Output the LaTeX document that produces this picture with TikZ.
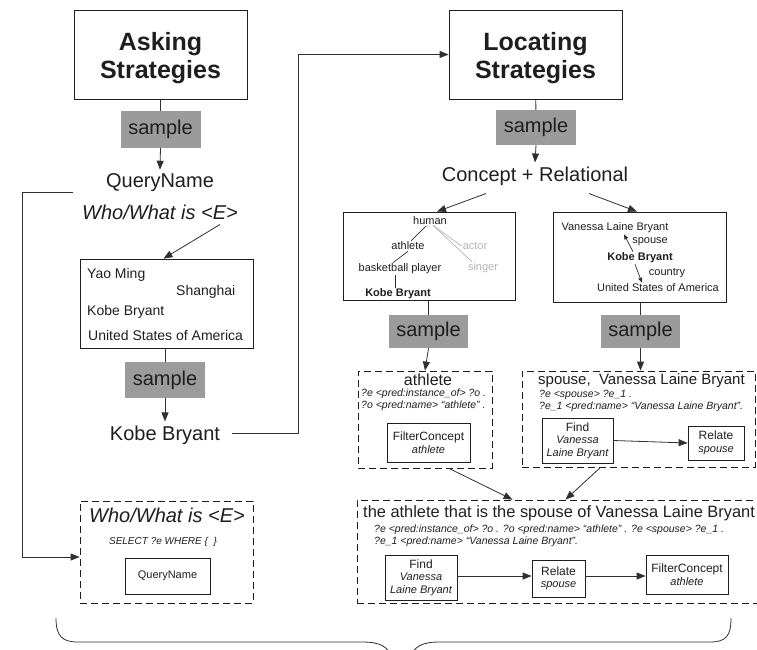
\documentclass[tikz,border=0pt]{standalone}
\usepackage{fontspec}
\setmainfont{Liberation Sans}
\usetikzlibrary{arrows.meta,calc}

\definecolor{samplegray}{HTML}{9B9B9B}
\definecolor{ink}{HTML}{1E1E1E}
\definecolor{wire}{HTML}{303030}
\definecolor{faint}{HTML}{B4B4B4}

\begin{document}
\begin{tikzpicture}[x=1pt,y=-1pt,
  every node/.style={text=ink},
  plainbox/.style={draw=ink, line width=0.8pt, inner sep=2pt},
  dashbox/.style={draw=ink, line width=0.8pt, dash pattern=on 7pt off 4pt},
  samplebox/.style={fill=samplegray, inner sep=0pt, font=\fontsize{20}{24}\selectfont},
  ftitle/.style={font=\fontsize{25}{28}\selectfont\bfseries, align=center, inner sep=0pt},
  fbig/.style={font=\fontsize{20}{24}\selectfont, inner sep=4pt},
  fbigit/.style={font=\fontsize{20}{24}\selectfont\itshape, inner sep=4pt},
  fhead/.style={font=\fontsize{16}{19}\selectfont, inner sep=1pt},
  flist/.style={font=\fontsize{14}{17}\selectfont, inner sep=1pt},
  ftree/.style={font=\fontsize{11}{13}\selectfont, inner sep=1pt},
  fcode/.style={font=\fontsize{10.5}{12}\selectfont\itshape, inner sep=0pt, align=left},
  fop/.style={font=\fontsize{12}{12.5}\selectfont, align=center, inner sep=0pt},
  conn/.style={draw=wire, line width=0.8pt},
  arr/.style={conn, -{Triangle[length=9pt,width=7pt]}},
  smallarr/.style={conn, line width=0.7pt, -{Triangle[length=5pt,width=4pt]}},
  fainted/.style={draw=faint, line width=0.7pt},
]
\useasboundingbox (0,0) rectangle (757,650);

% ---------------- asking strategies ----------------
\node[plainbox, minimum width=173pt, minimum height=89pt] (ask) at (160.5,54.5) {};
\node[ftitle] (askT) at (160.5,58) {Asking\\Strategies};
\node[samplebox, minimum width=80pt, minimum height=36pt] (s1) at (160.5,129.5) {sample};
\node[fbig] (qn) at (160,183) {QueryName};
\node[fbigit] (who) at (160,212) {Who/What is <E>};
\draw[conn] (ask) -- (s1);
\draw[arr] (s1.south) -- (qn.north);

\node[plainbox, minimum width=173pt, minimum height=89pt] (lst) at (166.5,303.5) {};
\node[flist, anchor=west] (l1) at (86,275) {Yao Ming};
\node[flist, anchor=west] (l2) at (175,292) {Shanghai};
\node[flist, anchor=west] (l3) at (86,312) {Kobe Bryant};
\node[flist, anchor=west] (l4) at (87,335) {United States of America};
\draw[arr] ([xshift=60pt,yshift=-1pt]who.south) -- ([xshift=-3pt]lst.north);

\node[samplebox, minimum width=80pt, minimum height=36pt] (s2) at (165,380) {sample};
\node[fbig] (kb) at (165,435) {Kobe Bryant};
\draw[conn] ([xshift=-1.5pt]lst.south) -- (s2.north);
\draw[arr] (s2.south) -- (kb.north);

% the sampled name feeds the locating strategies
\node[plainbox, minimum width=173pt, minimum height=89pt] (loc) at (535.5,54.5) {};
\node[ftitle] (locT) at (535.5,58) {Locating\\Strategies};
\draw[arr] ([xshift=8pt,yshift=2pt]kb.east) -- ++(66,0) |- (loc.west);

% the query template goes to its program
\node[dashbox, minimum width=173pt, minimum height=102pt] (dD) at (166.5,552) {};
\node[fbigit, inner sep=1pt] (dDt) at (167,515) {Who/What is <E>};
\node[fcode, font=\fontsize{10}{12}\selectfont\itshape] (dDc) at (163,542) {SELECT ?e WHERE \{ \ \}};
\node[plainbox, minimum width=85pt, minimum height=36pt, font=\fontsize{11}{13}\selectfont] (dDq) at (167.5,576) {QueryName};
\coordinate (qlink) at (73,192);
\draw[arr] (qlink) -- ++(-51,0) |- ([yshift=-5pt]dD.west);

% ---------------- locating strategies ----------------
\node[samplebox, minimum width=80pt, minimum height=35pt] (s3) at (536,127.5) {sample};
\node[fbig] (cr) at (535,176) {Concept + Relational};
\draw[conn] (loc) -- (s3);
\draw[arr] (s3.south) -- (cr.north);

\node[plainbox, minimum width=172pt, minimum height=88pt] (cA) at (429,256) {};
\node[plainbox, minimum width=173pt, minimum height=90pt] (cB) at (640,257) {};
\draw[arr] ([xshift=-49pt,yshift=-4pt]cr.south) -- ([xshift=8pt]cA.north);
\draw[arr] ([xshift=54pt,yshift=-4pt]cr.south) -- ([xshift=-3pt]cB.north);

% concept hierarchy
\node[ftree] (human) at (430,221) {human};
\node[ftree] (athl) at (408,246) {athlete};
\node[ftree, text=faint] (actor) at (475,246) {actor};
\node[ftree] (bball) at (400,269) {basketball player};
\node[ftree, text=faint] (singer) at (483,268) {singer};
\node[ftree, font=\fontsize{11}{13}\selectfont\bfseries] (kobeA) at (398,294) {Kobe Bryant};
\draw[conn, line width=0.7pt] ([xshift=-4pt]human.south) -- ([xshift=3pt]athl.north);
\draw[conn, line width=0.7pt] (athl.south) -- ([xshift=-7pt]bball.north);
\draw[conn, line width=0.7pt] ([xshift=-5pt]bball.south) -- ([xshift=-3pt]kobeA.north);
\draw[fainted] ([xshift=3pt,yshift=1pt]human.south) -- (actor.west);
\draw[fainted] ([xshift=3pt,yshift=1pt]human.south) -- ([xshift=5pt]singer.north west);

% relations around the entity
\node[ftree] (van) at (615,228) {Vanessa Laine Bryant};
\node[ftree] (spl) at (650,242) {spouse};
\node[ftree, font=\fontsize{11}{13}\selectfont\bfseries] (kobeB) at (640,258) {Kobe Bryant};
\node[ftree] (ctl) at (667,273) {country};
\node[ftree] (usaB) at (658,288) {United States of America};
\draw[smallarr] ([xshift=-7pt]kobeB.north) -- ([xshift=9pt]van.south);
\draw[smallarr] ([xshift=-5pt]kobeB.south) -- ([xshift=-16pt]usaB.north);

\node[samplebox, minimum width=79pt, minimum height=33pt] (s4) at (428.5,331.5) {sample};
\node[samplebox, minimum width=79pt, minimum height=33pt] (s5) at (640.5,331.5) {sample};
\draw[conn] ([xshift=-0.5pt]cA.south) -- (s4.north);
\draw[conn] ([xshift=0.5pt]cB.south) -- (s5.north);

% concept program
\node[dashbox, minimum width=134pt, minimum height=97pt] (dA) at (425,419.5) {};
\node[fhead] (dAt) at (428,380) {athlete};
\node[fcode, anchor=north west] (dAc) at (361,389) {?e <pred:instance\_of> ?o .\\?o <pred:name> ``athlete'' .};
\node[plainbox, fop, minimum width=83pt, minimum height=39pt] (fcA) at (428.5,442.5) {FilterConcept\\{\itshape\fontsize{11}{12.5}\selectfont athlete}};
\draw[arr] (s4.south) -- (dA.north);

% relation program
\node[dashbox, minimum width=233pt, minimum height=96pt] (dB) at (638.5,419) {};
\node[fhead, anchor=west, font=\fontsize{15}{18}\selectfont] (dBt) at (537,381) {spouse,~ Vanessa Laine Bryant};
\node[fcode, anchor=north west] (dBc) at (539,390) {?e <spouse> ?e\_1 .\\?e\_1 <pred:name> ``Vanessa Laine Bryant''.};
\node[plainbox, fop, minimum width=71pt, minimum height=45pt] (fdB) at (577.5,440.5) {Find\\{\itshape\fontsize{11}{12.5}\selectfont Vanessa}\\{\itshape\fontsize{11}{12.5}\selectfont Laine Bryant}};
\node[plainbox, fop, minimum width=56pt, minimum height=34pt] (rB) at (716,443) {Relate\\{\itshape\fontsize{11}{12.5}\selectfont spouse}};
\draw[arr] (s5.south) -- ([xshift=2pt]dB.north);
\draw[arr] (fdB.east) -- (rB.west);

% combined program
\node[dashbox, minimum width=405pt, minimum height=103pt] (dC) at (559.5,551.5) {};
\node[fhead, anchor=west, font=\fontsize{16.4}{19}\selectfont] (dCt) at (362,513) {the athlete that is the spouse of Vanessa Laine Bryant};
\node[fcode, anchor=north west] (dCc) at (374,525) {?e <pred:instance\_of> ?o . ?o <pred:name> ``athlete'' . ?e <spouse> ?e\_1 .\\?e\_1 <pred:name> ``Vanessa Laine Bryant''.};
\node[plainbox, fop, minimum width=72pt, minimum height=45pt] (fdC) at (421,577.5) {Find\\{\itshape\fontsize{11}{12.5}\selectfont Vanessa}\\{\itshape\fontsize{11}{12.5}\selectfont Laine Bryant}};
\node[plainbox, fop, minimum width=53pt, minimum height=37pt] (rC) at (558.5,578.5) {Relate\\{\itshape\fontsize{11}{12.5}\selectfont spouse}};
\node[plainbox, fop, minimum width=82pt, minimum height=39pt] (fcC) at (687,574.5) {FilterConcept\\{\itshape\fontsize{11}{12.5}\selectfont athlete}};
\draw[arr] (fdC.east |- 0,576) -- (rC.west |- 0,576);
\draw[arr] (rC.east |- 0,576) -- (fcC.west |- 0,576);
\draw[arr] ([xshift=24pt]dA.south) -- ([xshift=-47pt]dC.north);
\draw[arr] ([xshift=-38pt]dB.south) -- ([xshift=6pt]dC.north);

% brace under both columns
\draw[draw=wire, line width=0.8pt]
  (56,618) .. controls (56,636) and (62,642) .. (78,642) -- (362,642)
  .. controls (380,642) and (388,646) .. (394,660);
\draw[draw=wire, line width=0.8pt]
  (408,660) .. controls (414,646) and (422,642) .. (440,642) -- (710,642)
  .. controls (726,642) and (731,636) .. (731,618);
\end{tikzpicture}
\end{document}
